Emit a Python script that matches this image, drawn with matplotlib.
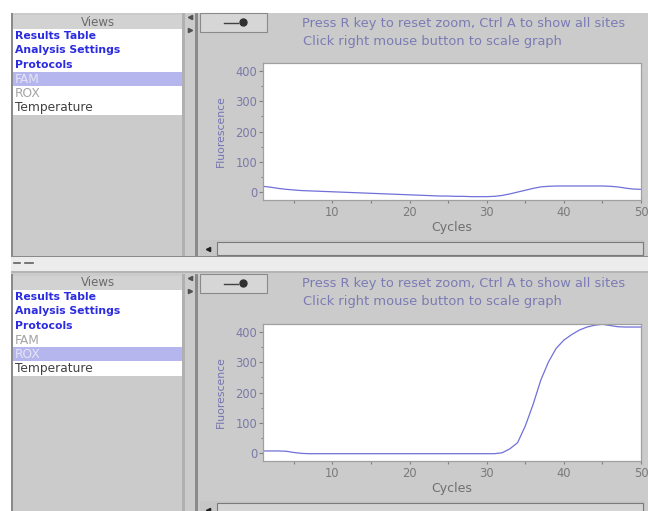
import matplotlib.pyplot as plt
from matplotlib.patches import Rectangle

W, H = 648, 511

cycles = list(range(1, 51))
fam = [20, 17, 13, 10, 8, 6, 5, 4, 3, 2,
       1, 0, -1, -2, -3, -4, -5, -6, -7, -8,
       -9, -10, -11, -12, -12, -13, -13, -14, -14, -14,
       -13, -10, -5, 1, 7, 13, 18, 20, 21, 21,
       21, 21, 21, 21, 21, 20, 18, 14, 11, 10]
rox = [8, 8, 8, 7, 3, 0, -1, -1, -1, -1,
       -1, -1, -1, -1, -1, -1, -1, -1, -1, -1,
       -1, -1, -1, -1, -1, -1, -1, -1, -1, -1,
       -1, 2, 15, 35, 90, 160, 240, 300, 345, 372,
       390, 405, 415, 421, 424, 420, 416, 415, 415, 415]

x_ticks = [10, 20, 30, 40, 50]
y_ticks = [0, 100, 200, 300, 400]
views = ['Results Table', 'Analysis Settings', 'Protocols', 'FAM', 'ROX', 'Temperature']
hint1 = 'Press R key to reset zoom, Ctrl A to show all sites'
hint2 = 'Click right mouse button to scale graph'

plt.rcParams['font.family'] = ['DejaVu Sans']

GRAY = '#cbcbcb'
DARK = '#8a8a8a'
BLUE = '#2b2be0'
HINT = '#7b7bb5'

fig = plt.figure(figsize=(6.48, 5.11), dpi=100)
fig.patch.set_facecolor('white')
bg = fig.add_axes([0, 0, 1, 1])
bg.set_xlim(0, W)
bg.set_ylim(H, 0)
bg.axis('off')


def box(x, y, w, h, fc, ec='none', lw=0):
    bg.add_patch(Rectangle((x, y), w, h, facecolor=fc, edgecolor=ec, linewidth=lw))


box(11, 13, W - 11, H - 13, GRAY)


def panel(y0, y_end, selected, values):
    # list of views
    box(11, y0, 2, y_end - y0, DARK)
    box(182, y0, 3, y_end - y0, '#b0b0b0')
    box(13, y0 + 2, 169, 14, '#d2d2d2')
    bg.text(98, y0 + 9, 'Views', ha='center', va='center', fontsize=8.5, color='#6a6a6a')
    row_h = 14.3
    box(13, y0 + 16, 169, row_h * len(views), 'white')
    for k, name in enumerate(views):
        yc = y0 + 16 + row_h * (k + 0.5)
        if k < 3:
            bg.text(15, yc, name, va='center', fontsize=7.8, color=BLUE, fontweight='bold')
            continue
        if name == selected:
            box(13, y0 + 16 + row_h * k, 169, row_h, '#b6b6ee')
            col = '#e4e4f4'
        elif name == 'Temperature':
            col = '#404040'
        else:
            col = '#a4a4a4'
        bg.text(15, yc, name, va='center', fontsize=8.8, color=col)

    # splitter column
    box(195, y0, 3, y_end - y0, DARK)
    bg.plot([190], [y0 + 4], marker='<', ms=3, color='#505050')
    bg.plot([190], [y0 + 17], marker='>', ms=3, color='#505050')

    # zoom button
    box(200, y0, 67, 19, '#d6d6d6', ec=DARK, lw=0.8)
    bg.plot([224, 238], [y0 + 10, y0 + 10], color='#404040', lw=1)
    bg.plot([243], [y0 + 9], marker='o', ms=5, color='#303030')

    bg.text(302, y0 + 10, hint1, va='center', fontsize=9.4, color=HINT)
    bg.text(303, y0 + 28, hint2, va='center', fontsize=9.4, color=HINT)

    # scrollbar
    box(200, y0 + 227, 445, 17, '#c6c6c6')
    bg.plot([208], [y0 + 236], marker='<', ms=3, color='#202020')
    box(217, y0 + 229, 426, 13, '#d4d4d4', ec='#7a7a7a', lw=0.8)

    # the graph
    ax = fig.add_axes([263 / W, 1 - (y0 + 187) / H, 378 / W, 137 / H])
    ax.set_facecolor('white')
    ax.plot(cycles, values, color='#7070d8', lw=0.9)
    ax.set_xlim(1, 50)
    ax.set_ylim(-25, 425)
    ax.set_xticks(x_ticks)
    ax.set_xticks([t - 5 for t in x_ticks], minor=True)
    ax.set_yticks(y_ticks)
    ax.set_yticks([t + 50 for t in y_ticks[:-1]], minor=True)
    ax.tick_params(axis='x', which='major', direction='out', length=2.5, width=0.8,
                   color='#808080', labelsize=8.3, labelcolor='#7a7a7a', pad=2)
    ax.tick_params(axis='y', which='major', direction='out', length=3, width=0.8,
                   color='#808080', labelsize=8.3, labelcolor='#7a7aa8', pad=1)
    ax.tick_params(which='minor', direction='out', length=1.8, width=0.8, color='#808080')
    for s in ax.spines.values():
        s.set_color('#a0a0a0')
        s.set_linewidth(0.9)
    ax.set_ylabel('Fluorescence', fontsize=7.8, color='#7474b4')
    ax.yaxis.set_label_coords(-0.098, 0.5)
    ax.set_xlabel('Cycles', fontsize=9, color='#6f6f6f')
    ax.xaxis.set_label_coords(0.5, -0.15)


panel(13, 257, 'FAM', fam)

# splitter between the two halves
box(11, 257, W - 11, 15, '#ececec')
box(11, 256, W - 11, 1.5, DARK)
box(11, 271, W - 11, 2, '#b4b4b4')
bg.plot([14, 20], [263, 263], color='#606060', lw=1.2)
bg.plot([25, 33], [263, 263], color='#606060', lw=1.2)

panel(274, H, 'ROX', rox)

fig.savefig('out.png', dpi=100)
